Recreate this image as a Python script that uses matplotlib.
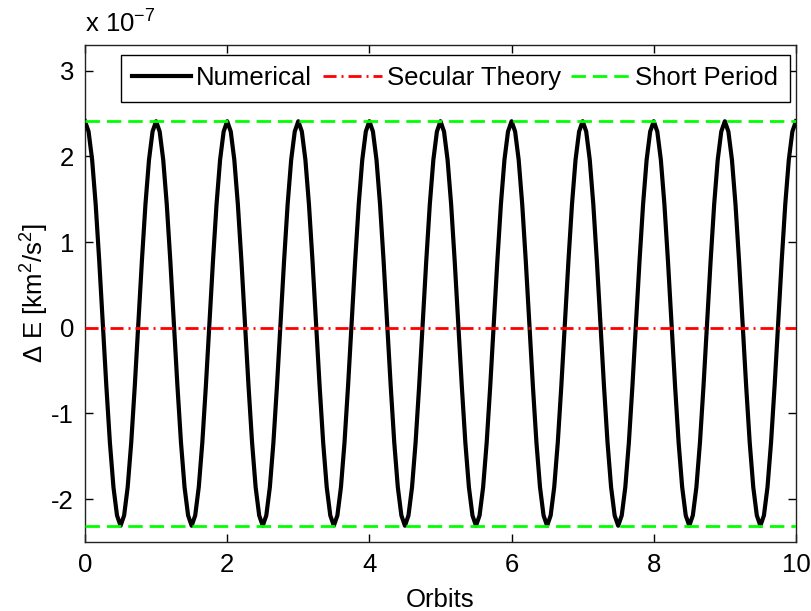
import numpy as np
import matplotlib
matplotlib.use("Agg")
import matplotlib.pyplot as plt
from matplotlib.ticker import FuncFormatter

plt.rcParams['font.family'] = ['Liberation Sans', 'DejaVu Sans']
plt.rcParams['mathtext.fontset'] = 'custom'
plt.rcParams['mathtext.rm'] = 'Liberation Sans'
plt.rcParams['mathtext.it'] = 'Liberation Sans'

SCALE = 1e-7

# Orbits sampled every 0.05 orbit
orbits = [i / 20 for i in range(201)]

# Numerical energy error, units of 1e-7 km^2/s^2
numerical = [
    2.41, 2.29, 1.96, 1.44, 0.78, 0.05, -0.68, -1.34, -1.86, -2.19, -2.31, -2.19, -1.86, -1.34, -0.68, 0.05, 0.78, 1.44, 1.96, 2.29,
    2.41, 2.29, 1.96, 1.44, 0.78, 0.05, -0.68, -1.34, -1.86, -2.19, -2.31, -2.19, -1.86, -1.34, -0.68, 0.05, 0.78, 1.44, 1.96, 2.29,
    2.41, 2.29, 1.96, 1.44, 0.78, 0.05, -0.68, -1.34, -1.86, -2.19, -2.31, -2.19, -1.86, -1.34, -0.68, 0.05, 0.78, 1.44, 1.96, 2.29,
    2.41, 2.29, 1.96, 1.44, 0.78, 0.05, -0.68, -1.34, -1.86, -2.19, -2.31, -2.19, -1.86, -1.34, -0.68, 0.05, 0.78, 1.44, 1.96, 2.29,
    2.41, 2.29, 1.96, 1.44, 0.78, 0.05, -0.68, -1.34, -1.86, -2.19, -2.31, -2.19, -1.86, -1.34, -0.68, 0.05, 0.78, 1.44, 1.96, 2.29,
    2.41, 2.29, 1.96, 1.44, 0.78, 0.05, -0.68, -1.34, -1.86, -2.19, -2.31, -2.19, -1.86, -1.34, -0.68, 0.05, 0.78, 1.44, 1.96, 2.29,
    2.41, 2.29, 1.96, 1.44, 0.78, 0.05, -0.68, -1.34, -1.86, -2.19, -2.31, -2.19, -1.86, -1.34, -0.68, 0.05, 0.78, 1.44, 1.96, 2.29,
    2.41, 2.29, 1.96, 1.44, 0.78, 0.05, -0.68, -1.34, -1.86, -2.19, -2.31, -2.19, -1.86, -1.34, -0.68, 0.05, 0.78, 1.44, 1.96, 2.29,
    2.41, 2.29, 1.96, 1.44, 0.78, 0.05, -0.68, -1.34, -1.86, -2.19, -2.31, -2.19, -1.86, -1.34, -0.68, 0.05, 0.78, 1.44, 1.96, 2.29,
    2.41, 2.29, 1.96, 1.44, 0.78, 0.05, -0.68, -1.34, -1.86, -2.19, -2.31, -2.19, -1.86, -1.34, -0.68, 0.05, 0.78, 1.44, 1.96, 2.29,
    2.41,
]

secular_x = [0, 10]
secular = [0.0, 0.0]

short_x = [0, 10]
short_upper = [2.41, 2.41]
short_lower = [-2.31, -2.31]

xticks = [0, 2, 4, 6, 8, 10]
yticks = [-2, -1, 0, 1, 2, 3]

FS = 18.5

fig = plt.figure(figsize=(8.12, 6.11), dpi=100)
ax = fig.add_axes([0.1047, 0.1129, 0.8755, 0.8135])

num_y = np.array(numerical) * SCALE
ax.plot(orbits, num_y, color='black', lw=3.0, label='Numerical', zorder=3)
ax.plot(secular_x, np.array(secular) * SCALE, color='#ff0000', lw=2.0,
        dashes=(4.7, 1.8, 0.7, 1.8), label='Secular Theory', zorder=4)
ax.plot(short_x, np.array(short_upper) * SCALE, color='#00ff00', lw=2.0,
        dashes=(5.2, 2.5), label='Short Period', zorder=4)
ax.plot(short_x, np.array(short_lower) * SCALE, color='#00ff00', lw=2.0,
        dashes=(5.2, 2.5), zorder=4)

ax.set_xlim(0, 10)
ax.set_ylim(-2.5 * SCALE, 3.3 * SCALE)
ax.set_xticks(xticks)
ax.set_yticks(np.array(yticks) * SCALE)
ax.yaxis.set_major_formatter(FuncFormatter(lambda v, p: f'{v / SCALE:.0f}'))
ax.tick_params(direction='in', length=6, width=1, top=True, right=True,
               labelsize=FS, pad=8)
for s in ax.spines.values():
    s.set_linewidth(1.0)
    s.set_color('#222222')

ax.set_xlabel('Orbits', fontsize=FS, labelpad=8)
ax.set_ylabel('Δ E [km$^2$/s$^2$]', fontsize=FS, labelpad=0)
ax.text(0.0, 1.015, 'x 10$^{-7}$', transform=ax.transAxes, fontsize=FS,
        ha='left', va='bottom')

leg = ax.legend(loc='upper right', bbox_to_anchor=(0.9916, 0.98), ncol=3,
                fontsize=FS, frameon=True, fancybox=False, edgecolor='black',
                framealpha=1, borderaxespad=0, handlelength=2.3,
                handletextpad=0.2, columnspacing=0.4, borderpad=0.45)
leg.get_frame().set_linewidth(1.0)

fig.savefig('out.png', dpi=100)
